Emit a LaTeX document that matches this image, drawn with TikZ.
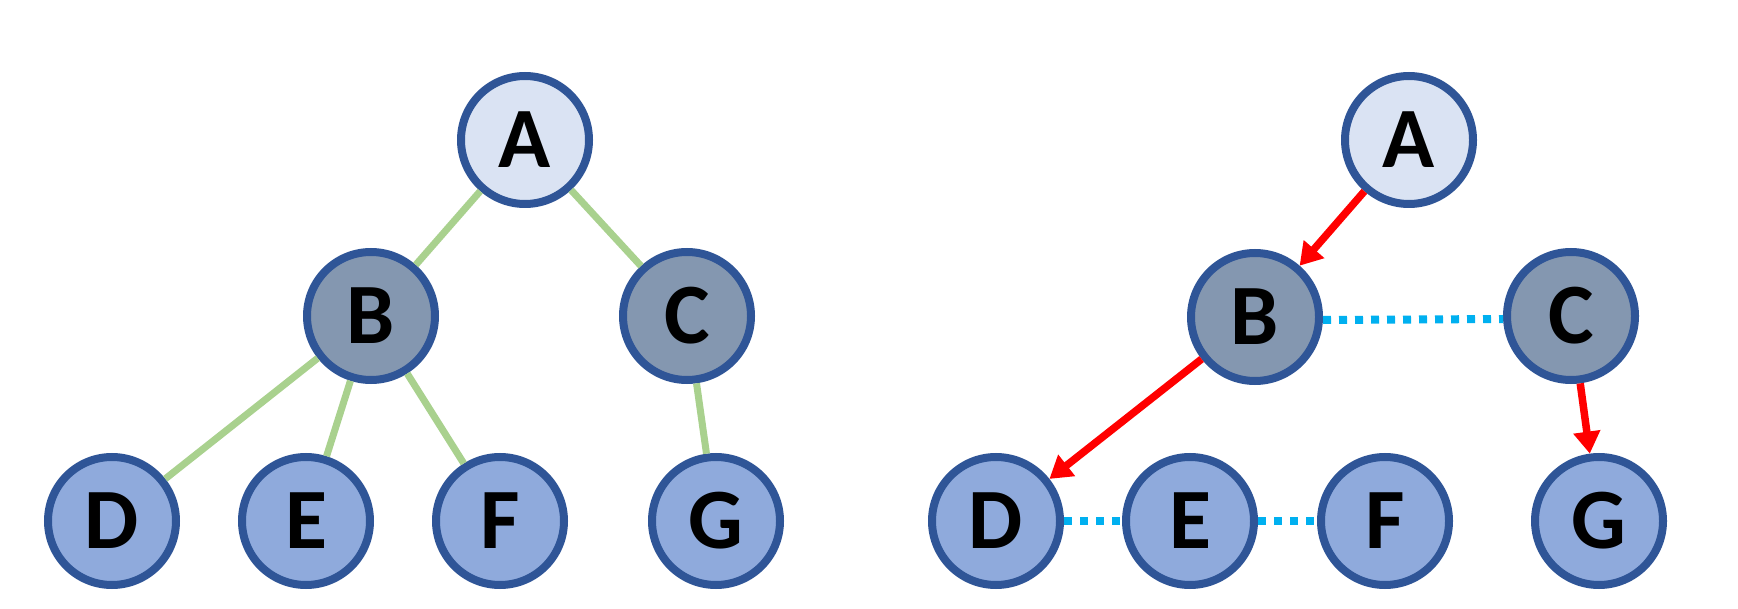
\documentclass[tikz,border=0pt]{standalone}
\usepackage{fontspec}
\newfontfamily\labfont{Carlito}
\usetikzlibrary{arrows.meta}
\definecolor{bordc}{HTML}{2F5597}
\definecolor{fillA}{HTML}{DAE3F3}
\definecolor{fillB}{HTML}{8497B0}
\definecolor{fillD}{HTML}{8FAADC}
\definecolor{greenc}{HTML}{A9D18E}
\definecolor{bluec}{HTML}{00B0F0}
\tikzset{
  vtx/.style={circle, draw=bordc, line width=8pt, minimum size=128pt, inner sep=0pt,
    font=\labfont\fontsize{86}{86}\selectfont\bfseries, text=black},
  lvA/.style={vtx, fill=fillA},
  lvB/.style={vtx, fill=fillB},
  lvD/.style={vtx, fill=fillD},
  treeedge/.style={draw=greenc, line width=7pt},
  redarrow/.style={draw=red, line width=7.5pt, -{Triangle[length=22pt,width=26pt]}},
  dotline/.style={draw=bluec, line width=8pt, dash pattern=on 8pt off 8pt}
}
\begin{document}
\begin{tikzpicture}[x=1pt,y=-1pt]
\useasboundingbox (0,0) rectangle (1738,609);
% left tree
\node[lvA] (lA) at (525,140) {A};
\node[lvB] (lB) at (371,316) {B};
\node[lvB] (lC) at (687,316) {C};
\node[lvD] (lD) at (112,521) {D};
\node[lvD] (lE) at (306,521) {E};
\node[lvD] (lF) at (500,521) {F};
\node[lvD] (lG) at (716,521) {G};
\path[treeedge] (lA) -- (lB);
\path[treeedge] (lA) -- (lC);
\path[treeedge] (lB) -- (lD);
\path[treeedge] (lB) -- (lE);
\path[treeedge] (lB) -- (lF);
\path[treeedge] (lC) -- (lG);
% right tree
\node[lvA] (rA) at (1409,140) {A};
\node[lvB] (rB) at (1255,317) {B};
\node[lvB] (rC) at (1571,316) {C};
\node[lvD] (rD) at (996,521) {D};
\node[lvD] (rE) at (1190,521) {E};
\node[lvD] (rF) at (1385,521) {F};
\node[lvD] (rG) at (1599,521) {G};
\path[redarrow] (rA) -- (rB);
\path[redarrow] (rB) -- (rD);
\path[redarrow] (rC) -- (rG);
\path[dotline] ([yshift=-3pt]rB.east) -- ([yshift=-3pt]rC.west);
\path[dotline] (rD.east) -- (rE.west);
\path[dotline] (rE.east) -- (rF.west);
\end{tikzpicture}
\end{document}
